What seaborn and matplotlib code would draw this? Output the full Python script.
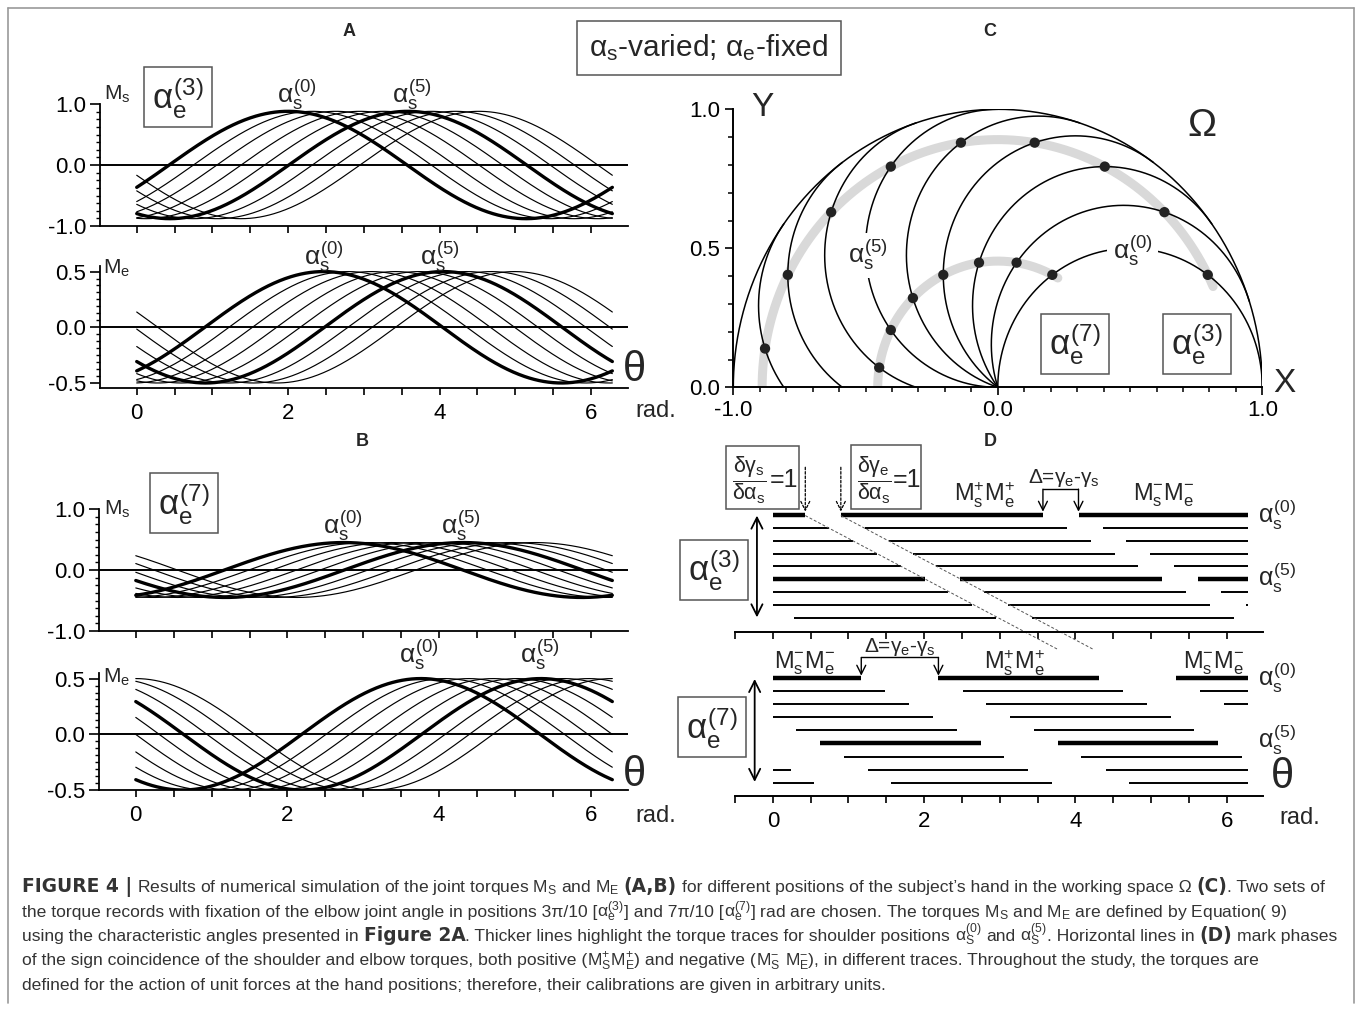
import numpy as np
import pandas as pd
import matplotlib
matplotlib.use("Agg")
import matplotlib.pyplot as plt
import seaborn as sns
from matplotlib.ticker import MultipleLocator
from matplotlib.lines import Line2D
from matplotlib.patches import Rectangle

# ---------------- data ----------------
SHOULDER_IDX = [0, 1, 2, 3, 4, 5, 6, 7, 8]          # alpha_s^(k)
THICK_IDX = [0, 5]
# phase (rad) of the maximum of every torque trace
A_MS_PEAK = [2.00, 2.32, 2.63, 2.95, 3.26, 3.58, 3.89, 4.21, 4.52]
A_ME_PEAK = [2.47, 2.79, 3.10, 3.42, 3.73, 4.05, 4.36, 4.68, 4.99]
B_MS_PEAK = [2.74, 3.06, 3.37, 3.69, 4.00, 4.32, 4.63, 4.95, 5.26]
B_ME_PEAK = [3.76, 4.08, 4.39, 4.71, 5.02, 5.34, 5.65, 5.97, 6.28]
A_MS_AMP, A_ME_AMP = 0.88, 0.50
B_MS_AMP, B_ME_AMP = 0.45, 0.50

X_TICKS = [0, 2, 4, 6]
MS_TICKS = [-1.0, 0.0, 1.0]
ME_TICKS = [-0.5, 0.0, 0.5]
C_X_TICKS = [-1.0, 0.0, 1.0]
C_Y_TICKS = [0.0, 0.5, 1.0]

# working space (panel C): two-link arm
SEG_LEN = [0.5, 0.5]
ALPHA_S_DEG = [0, 18, 36, 54, 72, 90, 108, 126, 144]
ALPHA_E_DEG = [54, 126]          # 3pi/10 and 7pi/10

B_ = "bold"
CAPTION = [
    [("FIGURE 4 |", B_), " ", r"Results of numerical simulation of the joint torques M$_\mathrm{S}$ and M$_\mathrm{E}$",
     " ", ("(A,B)", B_), " ", "for different positions of the subject’s hand in the working space Ω",
     " ", ("(C)", B_), ". Two sets of"],
    ["the torque records with fixation of the elbow joint angle in positions 3π/10 [",
     r"$\alpha_\mathrm{e}^{(3)}$", "] and 7π/10 [", r"$\alpha_\mathrm{e}^{(7)}$",
     r"] rad are chosen. The torques M$_\mathrm{S}$ and M$_\mathrm{E}$ are defined by Equation( 9)"],
    ["using the characteristic angles presented in", " ", ("Figure 2A", B_),
     ". Thicker lines highlight the torque traces for shoulder positions", " ",
     r"$\alpha_\mathrm{S}^{(0)}$", " ", "and", " ", r"$\alpha_\mathrm{S}^{(5)}$",
     ". Horizontal lines in", " ", ("(D)", B_), " ", "mark phases"],
    ["of the sign coincidence of the shoulder and elbow torques, both positive (",
     r"M$_\mathrm{S}^{+}$M$_\mathrm{E}^{+}$", ") and negative (", r"M$_\mathrm{S}^{-}$", " ",
     r"M$_\mathrm{E}^{-}$", "), in different traces. Throughout the study, the torques are"],
    ["defined for the action of unit forces at the hand positions; therefore, their calibrations are given in arbitrary units."],
]

# ---------------- style ----------------
sns.set_style("ticks")
plt.rcParams.update({
    "font.family": ["Liberation Sans", "DejaVu Sans"],
    "mathtext.fontset": "custom",
    "mathtext.rm": "Liberation Sans",
    "mathtext.it": "Liberation Sans",
    "mathtext.sf": "Liberation Sans",
    "mathtext.bf": "Liberation Sans:bold",
    "axes.unicode_minus": False,
    "axes.edgecolor": "black",
    "xtick.color": "black",
    "ytick.color": "black",
})

W, H = 1360, 1009
fig = plt.figure(figsize=(W / 100, H / 100), dpi=100)
RENDERER = fig.canvas.get_renderer()


def add_ax(l, t, r, b):
    return fig.add_axes([l / W, 1 - b / H, (r - l) / W, (b - t) / H])


def ptxt(x, y, s, size, ha="center", va="center", **kw):
    return fig.text(x / W, 1 - y / H, s, fontsize=size, ha=ha, va=va, **kw)


def pbox(l, t, r, b):
    fig.add_artist(Rectangle((l / W, 1 - b / H), (r - l) / W, (b - t) / H,
                             transform=fig.transFigure, fc="white", ec="#555555",
                             lw=1.1, zorder=2.5))


CAP_SIZE = 12.6
CAP_PROPS = {"normal": dict(fontsize=CAP_SIZE),
             "bold": dict(fontsize=13.4, weight="bold", family=["DejaVu Sans"])}


def advance(s, props):
    t1 = fig.text(0, 0, "|" + s + "|", **props)
    t0 = fig.text(0, 0, "||", **props)
    w = t1.get_window_extent(RENDERER).width - t0.get_window_extent(RENDERER).width
    t1.remove()
    t0.remove()
    return w


def rich_line(x0, y, pieces, color):
    x = x0
    for p in pieces:
        s, wt = p if isinstance(p, tuple) else (p, "normal")
        props = CAP_PROPS[wt]
        if s != " ":
            fig.text(x / W, 1 - y / H, s, ha="left", va="baseline", color=color, **props)
        x += advance(s, props)


BOX = dict(boxstyle="square,pad=0.22", fc="white", ec="#555555", lw=1.1)
TH = np.linspace(0, 2 * np.pi, 500)


def draw_traces(ax, peaks, amp):
    frames = []
    for k, p in zip(SHOULDER_IDX, peaks):
        frames.append(pd.DataFrame({"theta": TH, "M": amp * np.cos(TH - p),
                                    "k": k, "thick": k in THICK_IDX}))
    df = pd.concat(frames, ignore_index=True)
    sns.lineplot(data=df[~df.thick], x="theta", y="M", units="k", estimator=None,
                 color="black", lw=0.85, ax=ax, legend=False)
    sns.lineplot(data=df[df.thick], x="theta", y="M", units="k", estimator=None,
                 color="black", lw=2.4, ax=ax, legend=False)


def style_trace_ax(ax, ylim, yticks, yminor, show_x):
    ax.set_xlim(-0.485, 6.49)
    ax.set_ylim(*ylim)
    sns.despine(ax=ax)
    for s in ("left", "bottom"):
        ax.spines[s].set_linewidth(1.3)
    ax.set_yticks(yticks)
    ax.set_yticklabels([f"{v:.1f}" for v in yticks])
    ax.yaxis.set_minor_locator(MultipleLocator(yminor))
    ax.set_xticks(X_TICKS)
    ax.xaxis.set_minor_locator(MultipleLocator(0.5))
    ax.tick_params(axis="x", which="both", length=5, width=1.2, direction="out",
                   labelsize=16, pad=6)
    ax.tick_params(axis="y", which="major", length=7, width=1.2, labelsize=16, pad=3)
    ax.tick_params(axis="y", which="minor", length=3, width=1.0)
    if not show_x:
        ax.set_xticklabels([])
    ax.axhline(0, color="black", lw=1.4, zorder=1)
    ax.set_xlabel("")
    ax.set_ylabel("")
    ax.patch.set_alpha(0)


# ---------------- panel A ----------------
axA1 = add_ax(100, 104, 628, 226)
draw_traces(axA1, A_MS_PEAK, A_MS_AMP)
style_trace_ax(axA1, (-1, 1), MS_TICKS, 0.125, False)
axA2 = add_ax(100, 266, 628, 388)
draw_traces(axA2, A_ME_PEAK, A_ME_AMP)
style_trace_ax(axA2, (-0.545, 0.55), ME_TICKS, 0.0625, True)

# ---------------- panel B ----------------
axB1 = add_ax(99, 509, 628, 631)
draw_traces(axB1, B_MS_PEAK, B_MS_AMP)
style_trace_ax(axB1, (-1, 1), MS_TICKS, 0.125, False)
axB2 = add_ax(99, 673, 628, 790)
draw_traces(axB2, B_ME_PEAK, B_ME_AMP)
style_trace_ax(axB2, (-0.5, 0.55), ME_TICKS, 0.0625, True)

# labels A / B
ptxt(349, 32, "A", 13, weight="bold")
ptxt(362, 441, "B", 13, weight="bold")
ptxt(709, 48, r"$\alpha_\mathrm{s}$-varied; $\alpha_\mathrm{e}$-fixed", 21.5,
     bbox=dict(boxstyle="square,pad=0.4", fc="white", ec="#555555", lw=1.1))
ptxt(990, 32, "C", 13, weight="bold")
ptxt(990, 441, "D", 13, weight="bold")

for (x, y, s) in [(117, 94, r"M$_\mathrm{s}$"), (117, 268, r"M$_\mathrm{e}$"),
                  (117, 509, r"M$_\mathrm{s}$"), (117, 677, r"M$_\mathrm{e}$")]:
    ptxt(x, y, s, 15)
ptxt(178, 97, r"$\alpha_\mathrm{e}^{(3)}$", 25, bbox=BOX)
ptxt(184, 503, r"$\alpha_\mathrm{e}^{(7)}$", 25, bbox=BOX)
for (x, y, s) in [(297, 95, "0"), (412, 95, "5"), (324, 257, "0"), (440, 257, "5"),
                  (343, 526, "0"), (461, 526, "5"), (419, 655, "0"), (540, 655, "5")]:
    ptxt(x, y, r"$\alpha_\mathrm{s}^{(%s)}$" % s, 19)
for yy in (371, 776):
    ptxt(634, yy, r"$\theta$", 30, family="Liberation Serif")
for yy in (411, 816):
    ptxt(656, yy, "rad.", 17)

# ---------------- panel C ----------------
axC = add_ax(733.3, 109.3, 1262.3, 387.3)
L1, L2 = SEG_LEN


def hand(a_s, a_e):
    return (L1 * np.cos(a_s) + L2 * np.cos(a_s + a_e),
            L1 * np.sin(a_s) + L2 * np.sin(a_s + a_e))


# iso-elbow arcs (grey)
for ae_deg in ALPHA_E_DEG:
    ae = np.deg2rad(ae_deg)
    a_s = np.linspace(np.deg2rad(-3), np.pi - ae / 2 + 0.05, 300)
    x, y = hand(a_s, ae)
    sns.lineplot(x=x, y=y, sort=False, estimator=None, color="#d9d9d9", lw=6.5,
                 ax=axC, zorder=1)
# outer boundary (elbow extended)
a_s = np.linspace(0, np.pi, 400)
x, y = hand(a_s, 0.0)
sns.lineplot(x=x, y=y, sort=False, estimator=None, color="black", lw=1.1, ax=axC, zorder=2)
# iso-shoulder arcs
a_e = np.linspace(0, np.pi, 400)
for as_deg in ALPHA_S_DEG:
    x, y = hand(np.deg2rad(as_deg), a_e)
    sns.lineplot(x=x, y=y, sort=False, estimator=None, color="black", lw=1.1,
                 ax=axC, zorder=2)
# hand positions
dots = []
for ae_deg in ALPHA_E_DEG:
    for as_deg in ALPHA_S_DEG:
        x, y = hand(np.deg2rad(as_deg), np.deg2rad(ae_deg))
        if y >= 0:
            dots.append((x, y))
dots = pd.DataFrame(dots, columns=["x", "y"])
sns.scatterplot(data=dots, x="x", y="y", color="#222222", s=55, edgecolor="none",
                ax=axC, zorder=5)
axC.set_xlim(-1, 1)
axC.set_ylim(0, 1)
sns.despine(ax=axC)
for s in ("left", "bottom"):
    axC.spines[s].set_linewidth(1.4)
axC.set_xticks(C_X_TICKS)
axC.set_xticklabels([f"{v:.1f}" for v in C_X_TICKS])
axC.set_yticks(C_Y_TICKS)
axC.set_yticklabels([f"{v:.1f}" for v in C_Y_TICKS])
axC.xaxis.set_minor_locator(MultipleLocator(0.1))
axC.yaxis.set_minor_locator(MultipleLocator(0.1))
axC.tick_params(which="major", length=6, width=1.2, labelsize=16)
axC.tick_params(which="minor", length=3.5, width=1.1)
axC.set_xlabel("")
axC.set_ylabel("")
axC.text(-0.49, 0.475, r"$\alpha_\mathrm{s}^{(5)}$", fontsize=19, ha="center", va="center",
         bbox=dict(boxstyle="square,pad=0.2", fc="white", ec="none"), zorder=4)
axC.text(0.51, 0.49, r"$\alpha_\mathrm{s}^{(0)}$", fontsize=19, ha="center", va="center",
         bbox=dict(boxstyle="square,pad=0.2", fc="white", ec="none"), zorder=4)
ptxt(1075, 344, r"$\alpha_\mathrm{e}^{(7)}$", 25, bbox=BOX)
ptxt(1197, 344, r"$\alpha_\mathrm{e}^{(3)}$", 25, bbox=BOX)
ptxt(762, 108, "Y", 24)
ptxt(1284, 383, "X", 24)
ptxt(1202, 127, r"$\Omega$", 28, family="Liberation Serif")

# ---------------- panel D ----------------
TH_FINE = np.linspace(0, 2 * np.pi, 6001)


def runs(mask):
    out, i, n = [], 0, len(mask)
    while i < n:
        if mask[i]:
            j = i
            while j + 1 < n and mask[j + 1]:
                j += 1
            out.append((TH_FINE[i], TH_FINE[j]))
            i = j + 1
        else:
            i += 1
    return out


def draw_coincidence(ax, ms_peaks, me_peaks):
    for k, ps, pe in zip(SHOULDER_IDX, ms_peaks, me_peaks):
        lw = 3.2 if k in THICK_IDX else 1.4
        mask = np.cos(TH_FINE - ps) * np.cos(TH_FINE - pe) > 0
        for a, b in runs(mask):
            ax.plot([a, b], [k, k], color="black", lw=lw, solid_capstyle="butt")


def style_d_ax(ax, ybottom, labels):
    ax.set_xlim(-0.5, 6.48)
    ax.set_ylim(ybottom, -0.5)
    sns.despine(ax=ax, left=True)
    ax.spines["bottom"].set_linewidth(1.4)
    ax.set_yticks([])
    ax.set_xticks(X_TICKS)
    ax.xaxis.set_minor_locator(MultipleLocator(0.5))
    ax.tick_params(axis="x", which="both", length=5, width=1.2, labelsize=16, pad=6)
    if not labels:
        ax.set_xticklabels([])
    ax.patch.set_alpha(0)


axD1 = add_ax(735, 508.5, 1263, 631.7)
draw_coincidence(axD1, A_MS_PEAK, A_ME_PEAK)
style_d_ax(axD1, 9.06, False)
axD2 = add_ax(735, 671.8, 1263, 796)
draw_coincidence(axD2, B_MS_PEAK, B_ME_PEAK)
style_d_ax(axD2, 9.03, True)

HP = np.pi / 2
step = A_MS_PEAK[1] - A_MS_PEAK[0]
# diagonals dgamma/dalpha = 1
for x0 in (A_MS_PEAK[0] - HP, A_ME_PEAK[0] - HP):
    axD1.plot([x0, x0 + 10.4 * step], [0.05, 10.4], color="#555555", lw=0.7,
              dashes=(3, 2), clip_on=False)
    axD1.annotate("", xy=(x0, -0.25), xytext=(x0, -3.7),
                  arrowprops=dict(arrowstyle="->", lw=0.9, ls=(0, (2, 1.5)), color="black",
                                  shrinkA=0, shrinkB=0, mutation_scale=16),
                  annotation_clip=False)


def bracket(ax, x1, x2, yline, ytip):
    ax.plot([x1, x2], [yline, yline], color="black", lw=1.0, clip_on=False)
    for xx in (x1, x2):
        ax.annotate("", xy=(xx, ytip), xytext=(xx, yline),
                    arrowprops=dict(arrowstyle="->", lw=1.0, color="black",
                                    shrinkA=0, shrinkB=0, mutation_scale=16),
                    annotation_clip=False)


bracket(axD1, A_MS_PEAK[0] + HP, A_ME_PEAK[0] + HP, -2.0, -0.25)
bracket(axD2, B_MS_PEAK[0] - HP, B_ME_PEAK[0] - HP, -1.6, -0.2)

for ax, x in ((axD1, -0.21), (axD2, -0.24)):
    ax.annotate("", xy=(x, 0.05), xytext=(x, 7.95),
                arrowprops=dict(arrowstyle="<->", lw=1.3, color="black",
                                shrinkA=0, shrinkB=0, mutation_scale=20),
                annotation_clip=False)

pm = r"M$_\mathrm{s}^{+}$M$_\mathrm{e}^{+}$"
mm = r"M$_\mathrm{s}^{-}$M$_\mathrm{e}^{-}$"
dl = r"$\Delta$=$\gamma_\mathrm{e}$-$\gamma_\mathrm{s}$"
axD1.text(2.8, -1.5, pm, fontsize=17, ha="center", va="center")
axD1.text(5.16, -1.5, mm, fontsize=17, ha="center", va="center")
axD1.text(3.84, -2.45, dl, fontsize=15, ha="center", va="baseline")
axD2.text(0.42, -1.15, mm, fontsize=17, ha="center", va="center")
axD2.text(3.2, -1.15, pm, fontsize=17, ha="center", va="center")
axD2.text(5.82, -1.15, mm, fontsize=17, ha="center", va="center")
axD2.text(1.68, -2.05, dl, fontsize=15, ha="center", va="baseline")
for ax, r5 in ((axD1, 4.9), (axD2, 4.7)):
    ax.text(6.42, 0.0, r"$\alpha_\mathrm{s}^{(0)}$", fontsize=18, ha="left", va="center")
    ax.text(6.42, r5, r"$\alpha_\mathrm{s}^{(5)}$", fontsize=18, ha="left", va="center")
axD2.text(6.72, 7.63, r"$\theta$", fontsize=30, ha="center", va="center",
          family="Liberation Serif")
ptxt(1300, 818, "rad.", 17)

ptxt(714, 570, r"$\alpha_\mathrm{e}^{(3)}$", 25, bbox=BOX)
ptxt(712, 727, r"$\alpha_\mathrm{e}^{(7)}$", 25, bbox=BOX)
# derivative boxes
pbox(726, 446, 799, 509)
pbox(851, 445, 921, 509)
for (xf, xe, g) in ((749, 784, "s"), (874, 907, "e")):
    ptxt(xf, 480, r"$\dfrac{\delta\gamma_\mathrm{%s}}{\delta\alpha_\mathrm{s}}$" % g, 15.5,
         zorder=4)
    ptxt(xe, 480, "=1", 18, zorder=4)

# ---------------- caption ----------------
for i, line in enumerate(CAPTION):
    rich_line(22, 892 + 24.5 * i, line, "#333333")

# frame
for xs, ys in (([8, 8], [8, 1003]), ([8, 1354], [8, 8]), ([1354, 1354], [8, 1003])):
    fig.add_artist(Line2D([v / W for v in xs], [1 - v / H for v in ys],
                          transform=fig.transFigure, color="#999999", lw=1.2))

fig.savefig("out.png", dpi=100)
